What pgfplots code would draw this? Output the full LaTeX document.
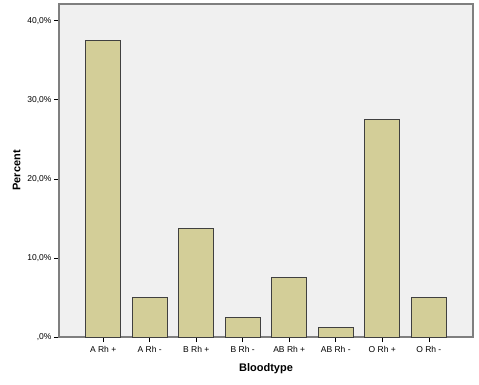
\documentclass[border=0pt]{standalone}
\usepackage{fontspec}
\setmainfont{Liberation Sans}
\usepackage{pgfplots}
\pgfplotsset{compat=1.18}
\definecolor{barfill}{HTML}{D3CE98}
\definecolor{plotbg}{HTML}{F0F0F0}
\definecolor{frame}{HTML}{7F7F7F}
\begin{document}
\begin{tikzpicture}[x=1pt,y=1pt]
\useasboundingbox (0,0) rectangle (479,384);
\begin{axis}[
  at={(59pt,47pt)}, anchor=south west,
  scale only axis, width=414pt, height=333pt,
  xmin=-0.95, xmax=7.95, ymin=0, ymax=42.1,
  axis background/.style={fill=plotbg},
  axis line style={frame, line width=1.2pt},
  xtick={0,1,2,3,4,5,6,7},
  xticklabels={A Rh +, A Rh -, B Rh +, B Rh -, AB Rh +, AB Rh -, O Rh +, O Rh -},
  ytick={0,10,20,30,40},
  yticklabels={{,0\%},{10,0\%},{20,0\%},{30,0\%},{40,0\%}},
  tick align=outside, major tick length=5pt,
  tick style={black, line width=0.6pt},
  xtick pos=bottom, ytick pos=left,
  tick label style={font=\fontsize{8.5}{10}\selectfont, text=black},
  xticklabel style={yshift=-1pt},
  yticklabel style={xshift=1pt},
  xlabel={\textbf{Bloodtype}}, ylabel={\textbf{Percent}},
  label style={font=\fontsize{11}{13}\selectfont},
  xlabel style={yshift=-4pt},
  ylabel style={yshift=0pt},
]
\addplot[ybar, bar width=35pt, fill=barfill, draw=black!75, line width=0.8pt]
coordinates {(0,37.5) (1,5.0) (2,13.75) (3,2.5) (4,7.5) (5,1.25) (6,27.5) (7,5.0)};
\end{axis}
\end{tikzpicture}
\end{document}
